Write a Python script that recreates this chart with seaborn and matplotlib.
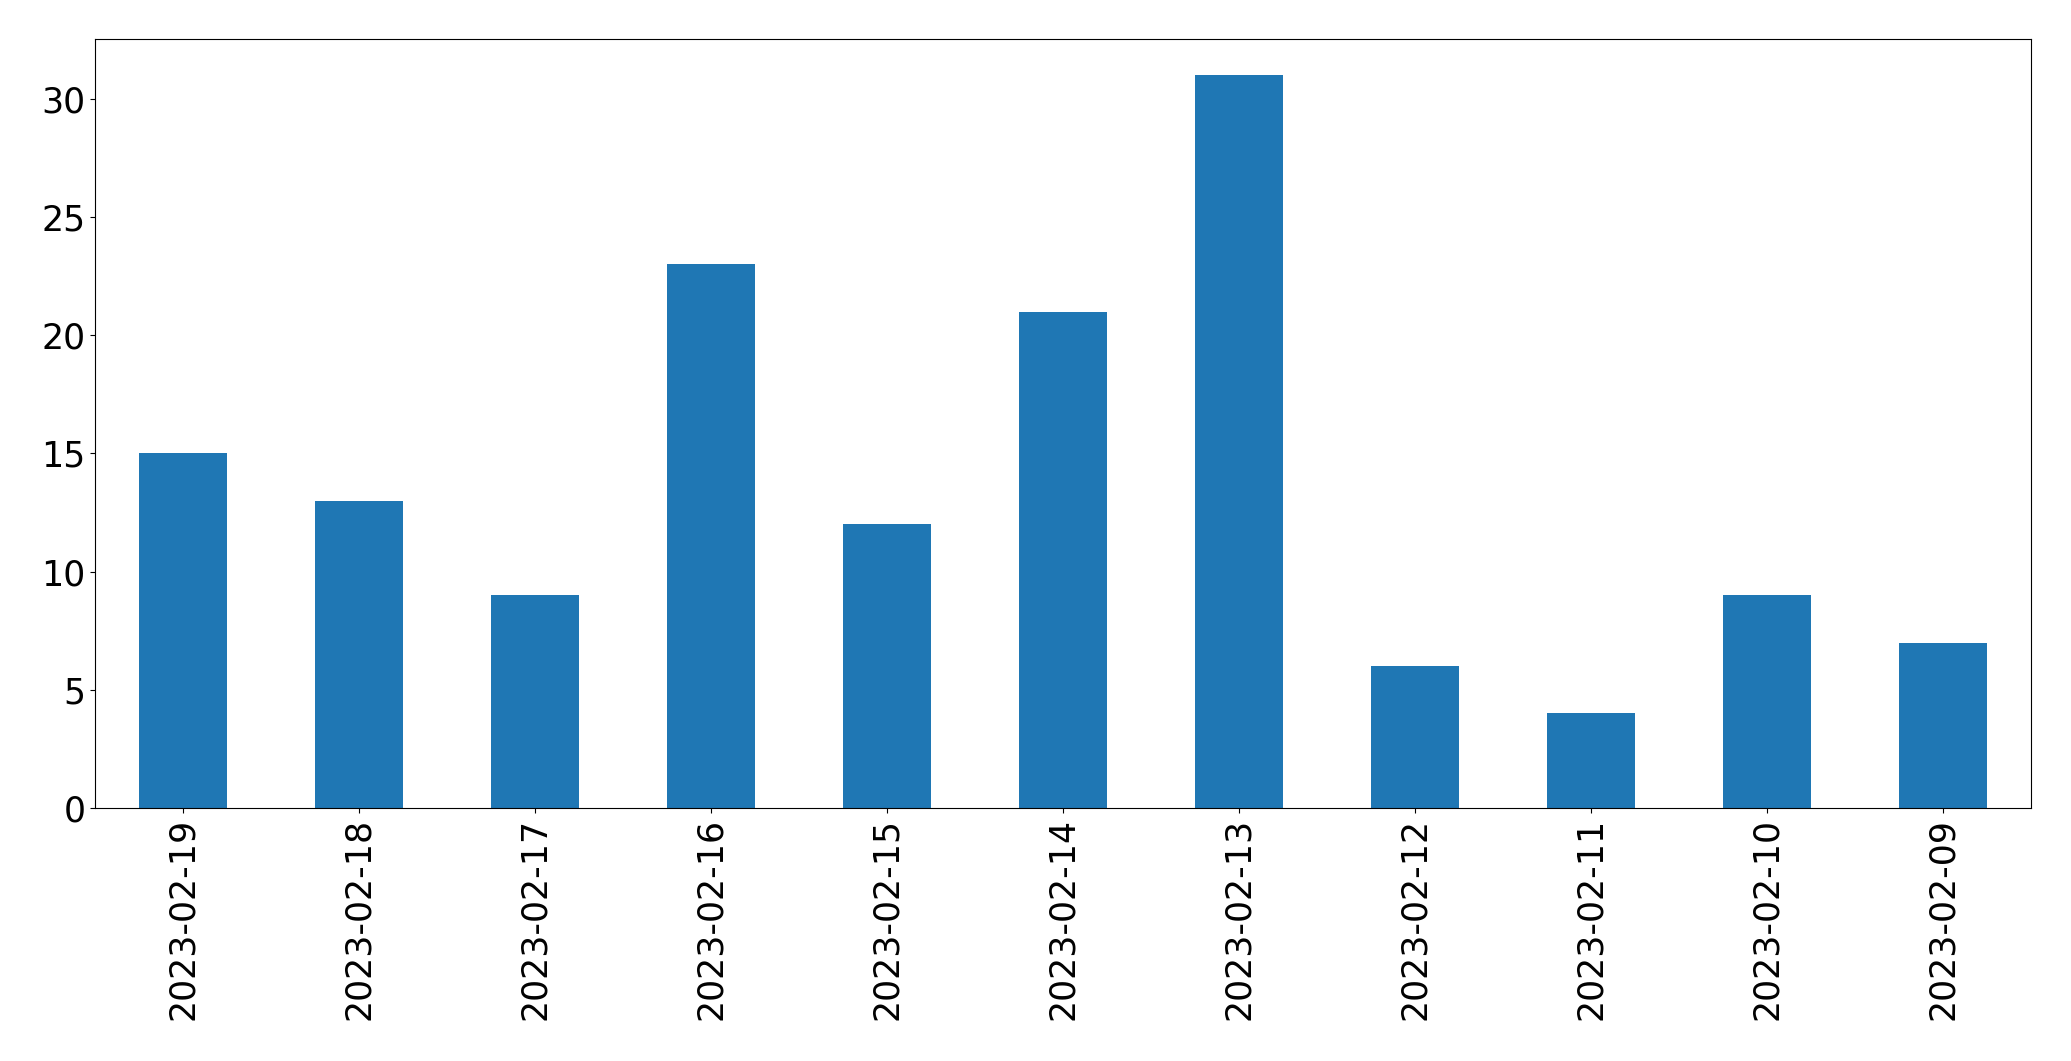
import pandas as pd
import matplotlib
matplotlib.use("Agg")
import matplotlib.pyplot as plt
import seaborn as sns

# dates in the order shown on the x axis (newest first)
dates = ['2023-02-19', '2023-02-18', '2023-02-17', '2023-02-16', '2023-02-15',
         '2023-02-14', '2023-02-13', '2023-02-12', '2023-02-11', '2023-02-10',
         '2023-02-09']
counts = [15, 13, 9, 23, 12, 21, 31, 6, 4, 9, 7]

df = pd.DataFrame({'Date': dates, 'Count': counts})

fig = plt.figure(figsize=(20.71, 10.61), dpi=100)
ax = fig.add_axes([0.0459, 0.2385, 0.9348, 0.7250])

sns.barplot(data=df, x='Date', y='Count', order=dates, color='#1f77b4',
            saturation=1, width=0.5, ax=ax)

ax.set_xlim(-0.5, len(dates) - 0.5)
ax.set_ylim(0, max(counts) * 1.05)
ax.set_xlabel('')
ax.set_ylabel('')
ax.tick_params(axis='both', labelsize=25)
plt.xticks(rotation=90)

fig.savefig('out.png', dpi=100)
